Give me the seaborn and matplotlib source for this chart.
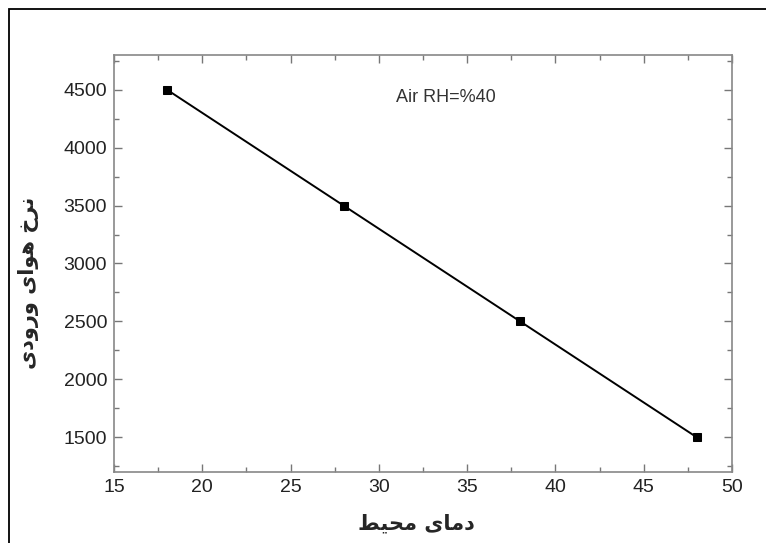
import pandas as pd
import matplotlib.pyplot as plt
import matplotlib.patches as mpatches
from matplotlib.ticker import MultipleLocator
import seaborn as sns

# --- data ---
ambient_temp = [18, 28, 38, 48]
inlet_air_rate = [4500, 3500, 2500, 1500]
note_text = "Air RH=%40"

# Persian labels, pre-shaped (presentation forms, visual order) since
# matplotlib does no Arabic shaping / bidi on its own
x_label_logical = "دمای محیط"
y_label_logical = "نرخ هوای ورودی"
x_label_shaped = "\uFEC2\uFEF4\uFEA4\uFEE3 \uFEEF\uFE8E\uFEE3\uFEA9"
y_label_shaped = "\uFEEF\uFEA9\uFEED\uFEAD\uFEED \uFEEF\uFE8D\uFEEE\uFEEB \uFEA5\uFEAE\uFEE7"

df = pd.DataFrame({"temp": ambient_temp, "rate": inlet_air_rate})

sns.set_theme(style="white")
plt.rcParams['font.family'] = ['Liberation Sans', 'DejaVu Sans']

fig = plt.figure(figsize=(7.66, 5.43), dpi=100)
ax = fig.add_axes([0.1488, 0.1308, 0.8068, 0.768])

sns.lineplot(data=df, x="temp", y="rate", ax=ax, color="black", lw=1.4,
             marker="s", markersize=6, markeredgecolor="black")

ax.set_xlim(15, 50)
ax.set_ylim(1200, 4800)
ax.xaxis.set_major_locator(MultipleLocator(5))
ax.xaxis.set_minor_locator(MultipleLocator(2.5))
ax.yaxis.set_minor_locator(MultipleLocator(250))
ax.set_yticks([1500, 2000, 2500, 3000, 3500, 4000, 4500])
ax.tick_params(which="both", direction="in", top=True, right=True,
               bottom=True, left=True, color="#777777", labelsize=14,
               labelcolor="#222222", pad=5)
ax.tick_params(which="major", length=6, width=1)
ax.tick_params(which="minor", length=3.5, width=1)
for sp in ax.spines.values():
    sp.set_color("#888888")
    sp.set_linewidth(1.2)

ax.set_xlabel(x_label_shaped, fontsize=15, fontweight="bold",
              family=["DejaVu Sans"])
ax.set_ylabel(y_label_shaped, fontsize=15, fontweight="bold",
              family=["DejaVu Sans"])
ax.xaxis.set_label_coords(0.49, -0.1)
ax.yaxis.set_label_coords(-0.122, 0.453)

ax.text(33.8, 4431, note_text, ha="center", va="center", fontsize=13,
        color="#333333")

# outer frame of the original picture (clipped on right/bottom)
fig.patches.append(mpatches.Rectangle((9 / 766, -0.1), 1.2, 1 - 9 / 543 + 0.1,
                                      transform=fig.transFigure, fill=False,
                                      edgecolor="black", lw=1.3))

fig.savefig("out.png", dpi=100, facecolor="white")
